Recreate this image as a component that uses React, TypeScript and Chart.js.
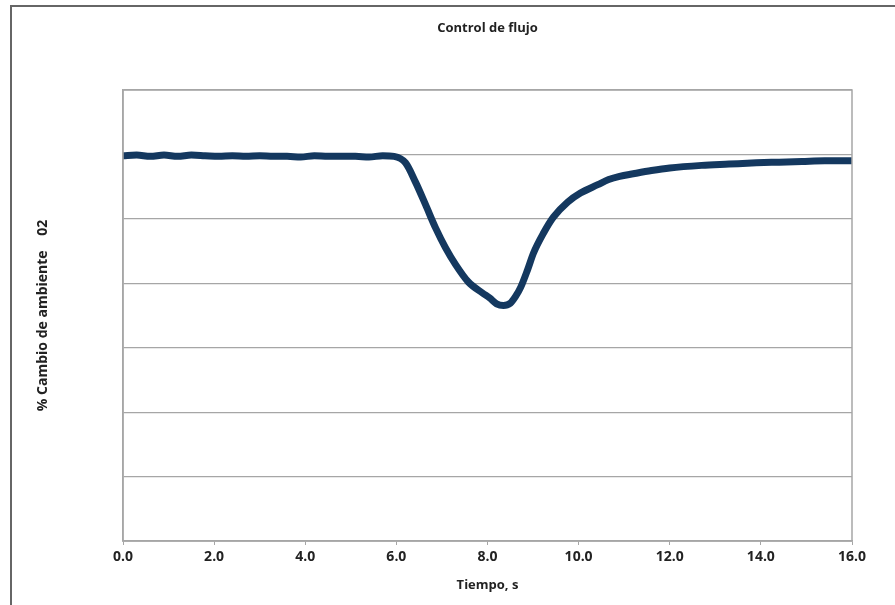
import React, { useEffect, useRef } from "react";
import { Chart, registerables } from "chart.js";

Chart.register(...registerables);

const chartTitle = "Control de flujo";
const xAxisTitle = "Tiempo, s";
const yAxisTitle = "% Cambio de ambiente    02";

const times = [
  0, 0.3, 0.6, 0.9, 1.2, 1.5, 1.8, 2.1, 2.4, 2.7, 3.0, 3.3, 3.6, 3.9, 4.2, 4.5, 4.8, 5.1, 5.4, 5.7, 5.95,
  6.2, 6.42, 6.64, 6.86, 7.08, 7.3, 7.58, 7.89, 8.05, 8.2, 8.35, 8.5, 8.62, 8.73, 8.88, 9.01, 9.23, 9.45,
  9.76, 10.04, 10.42, 10.66, 10.9, 11.2, 11.6, 12.0, 12.7, 13.3, 13.9, 14.4, 14.9, 15.4, 16.0,
];
const values = [
  5.98, 5.99, 5.97, 5.99, 5.97, 5.99, 5.98, 5.97, 5.98, 5.97, 5.98, 5.97, 5.97, 5.96, 5.98, 5.97, 5.97,
  5.97, 5.96, 5.98, 5.97, 5.87, 5.57, 5.22, 4.86, 4.55, 4.29, 4.02, 3.85, 3.77, 3.68, 3.655, 3.69, 3.8,
  3.94, 4.21, 4.47, 4.78, 5.03, 5.26, 5.4, 5.53, 5.61, 5.66, 5.7, 5.75, 5.79, 5.83, 5.85, 5.87, 5.88,
  5.89, 5.9, 5.9,
];

const FONT = "'Open Sans', 'Noto Sans', sans-serif";

const plotBorder = {
  id: "plotBorder",
  afterDraw(chart: any) {
    const { ctx, chartArea } = chart;
    ctx.save();
    ctx.strokeStyle = "#a6a6a6";
    ctx.lineWidth = 1.5;
    ctx.strokeRect(chartArea.left, chartArea.top, chartArea.right - chartArea.left, chartArea.bottom - chartArea.top);
    ctx.restore();
  },
};

export default function App() {
  const ref = useRef<HTMLCanvasElement>(null);
  useEffect(() => {
    if (!ref.current) return;
    const data = times.map((t, i) => ({ x: t, y: values[i] }));
    const chart = new Chart(ref.current, {
      type: "line",
      data: {
        datasets: [
          {
            data,
            borderColor: "#14385f",
            borderWidth: 7,
            pointRadius: 0,
            cubicInterpolationMode: "monotone",
            borderCapStyle: "round",
            borderJoinStyle: "round",
          },
        ],
      },
      options: {
        animation: false,
        responsive: false,
        layout: { padding: { left: 0, right: 43, top: 0, bottom: 0 } },
        plugins: {
          legend: { display: false },
          tooltip: { enabled: false },
          title: { display: false },
        },
        scales: {
          xTop: {
            type: "linear",
            position: "top",
            min: 0,
            max: 16,
            afterFit: (s: any) => {
              s.height = 90;
            },
            ticks: { display: false },
            grid: { display: false },
            border: { display: false },
            title: {
              display: true,
              text: chartTitle,
              color: "#222",
              font: { family: FONT, size: 13, weight: "bold" },
              padding: { top: 20, bottom: 0 },
            },
          },
          x: {
            type: "linear",
            position: "bottom",
            min: 0,
            max: 16,
            afterFit: (s: any) => {
              s.height = 64;
            },
            ticks: {
              stepSize: 2,
              callback: (v: any) => Number(v).toFixed(1),
              color: "#222",
              font: { family: FONT, size: 14, weight: "bold" },
              padding: 4,
              maxRotation: 0,
            },
            grid: { drawOnChartArea: false, drawTicks: true, tickLength: 4, color: "#a6a6a6" },
            border: { color: "#a6a6a6", width: 1.5 },
            title: {
              display: true,
              text: xAxisTitle,
              color: "#222",
              font: { family: FONT, size: 13, weight: "bold" },
              padding: { top: 0, bottom: 12 },
            },
          },
          y: {
            min: 0,
            max: 7,
            afterFit: (s: any) => {
              s.width = 123;
            },
            ticks: { stepSize: 1, display: false },
            grid: { drawTicks: false, color: "#a6a6a6", lineWidth: 1.2 },
            border: { color: "#a6a6a6", width: 1.5 },
            title: {
              display: true,
              text: yAxisTitle,
              color: "#222",
              font: { family: FONT, size: 14, weight: "bold" },
              padding: { top: 35, bottom: 0 },
            },
          },
        },
      },
      plugins: [plotBorder],
    });
    return () => chart.destroy();
  }, []);

  return (
    <div style={{ position: "fixed", left: 0, top: 0, width: 895, height: 605, background: "#fff", overflow: "hidden" }}>
      <div
        style={{
          position: "absolute",
          left: 10,
          top: 5,
          width: 883,
          height: 620,
          borderLeft: "2px solid #666",
          borderTop: "2px solid #666",
          borderRight: "1px solid #ccc",
        }}
      />
      <canvas ref={ref} width={895} height={605} style={{ position: "absolute", left: 0, top: 0 }} />
    </div>
  );
}
